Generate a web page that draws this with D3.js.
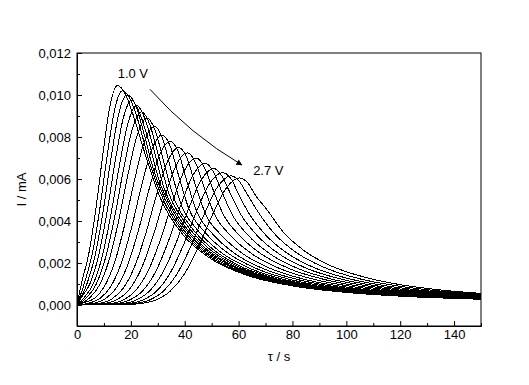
<!DOCTYPE html>
<html>
<head>
<meta charset="utf-8">
<script src="https://cdn.jsdelivr.net/npm/d3@7"></script>
<style>
  body { margin: 0; background: #fff; }
  svg text { font-family: "Liberation Sans", Arial, sans-serif; font-size: 13px; fill: #000; }
</style>
</head>
<body>
<div id="chart"></div>
<script>

// applied voltage for each transient
var voltages = ["1.0", "1.1", "1.2", "1.3", "1.4", "1.5", "1.6", "1.7", "1.8",
                "1.9", "2.0", "2.1", "2.2", "2.3", "2.4", "2.5", "2.6", "2.7"];

// [tau (s), I (mA)], one list per voltage
var curves = [
  [[0,0],[1.8,.0011],[4.44,.00248],[7.08,.00465],[9.72,.00729],[12.36,.00955],[15,.01045],[18,.01003],[21,.00899],[25,.00731],[31,.00508],[39,.0034],[49,.00226],[63,.00142],[80,.000911],[100,.000597],[120,.000421],[150,.000274]],
  [[0,0],[2.85,.00108],[5.64,.00242],[8.43,.00454],[11.22,.00712],[14.01,.00932],[16.8,.0102],[19.8,.00979],[22.8,.00873],[26.8,.00682],[32.8,.0048],[40.8,.00326],[50.8,.00218],[64.8,.00139],[80,.000936],[100,.000612],[120,.000431],[150,.00028]],
  [[0,0],[3.8,.00105],[6.74,.00237],[9.68,.00445],[12.62,.00698],[15.56,.00914],[18.5,.01],[21.5,.0096],[24.5,.00834],[28.5,.00641],[34.5,.00457],[42.5,.00313],[52.5,.00212],[66.5,.00136],[80,.00096],[100,.000626],[120,.00044],[150,.000285]],
  [[0,0],[1.76,.00038],[4.85,.00103],[7.94,.00231],[11.03,.00434],[14.12,.0068],[17.21,.00891],[20.3,.00975],[23.3,.00912],[26.3,.00795],[30.3,.00601],[36.3,.00434],[44.3,.00301],[54.3,.00206],[68.3,.00133],[80,.000985],[100,.000641],[120,.00045],[150,.000292]],
  [[0,0],[2.76,.00037],[6.0,.001],[9.24,.00225],[12.48,.00423],[15.72,.00663],[18.96,.00868],[22.2,.0095],[25.2,.00888],[28.2,.00756],[32.2,.00562],[38.2,.0041],[46.2,.00287],[56.2,.00199],[70.2,.0013],[85,.000899],[100,.000656],[120,.00046],[150,.000297]],
  [[0,0],[3.66,.00036],[7.05,.00097],[10.44,.00218],[13.83,.00409],[17.22,.00642],[20.61,.00841],[24,.0092],[27,.0086],[30,.00724],[34,.00536],[40,.00395],[48,.00279],[58,.00194],[72,.00128],[86,.000905],[100,.000675],[120,.000472],[150,.000304]],
  [[0,0],[4.76,.00035],[8.3,.00094],[11.84,.00211],[15.38,.00396],[18.92,.00621],[22.46,.00813],[26,.0089],[29,.00832],[32,.00692],[36,.00509],[42,.00378],[50,.0027],[60,.00189],[74,.00125],[87,.000913],[100,.000694],[120,.000484],[150,.000312]],
  [[0,0],[1.64,.00007],[6.56,.00033],[10.25,.0009],[13.94,.00201],[17.63,.00378],[21.32,.00593],[25.01,.00777],[28.7,.0085],[31.7,.00795],[34.7,.00653],[38.7,.00477],[44.7,.00358],[52.7,.00258],[62.7,.00183],[76.7,.00122],[88,.00093],[100,.000721],[120,.000501],[150,.000321]],
  [[0,0],[3.44,.00006],[8.56,.00032],[12.4,.00085],[16.24,.00192],[20.08,.0036],[23.92,.00565],[27.76,.0074],[31.6,.0081],[34.6,.00757],[37.6,.00622],[41.6,.00456],[47.6,.00345],[55.6,.00251],[65.6,.00179],[79.6,.0012],[90,.000937],[100,.000757],[120,.000523],[150,.000333]],
  [[0,0],[5.34,.00006],[10.66,.00031],[14.65,.00082],[18.64,.00185],[22.63,.00347],[26.62,.00544],[30.61,.00713],[34.6,.0078],[37.6,.00729],[40.6,.00598],[44.6,.00441],[50.6,.00335],[58.6,.00245],[68.6,.00176],[82.6,.00119],[91,.000972],[100,.000799],[120,.000548],[150,.000347]],
  [[0,0],[1.92,.00001],[7.44,.00006],[12.96,.00029],[17.1,.00079],[21.24,.00178],[25.38,.00334],[29.52,.00523],[33.66,.00685],[37.8,.0075],[40.8,.00701],[43.8,.00578],[47.8,.00431],[53.8,.0033],[61.8,.00242],[71.8,.00174],[85.8,.00118],[100,.000852],[120,.000579],[150,.000363]],
  [[0,0],[3.82,.00001],[9.54,.00006],[15.26,.00028],[19.55,.00076],[23.84,.00172],[28.13,.00323],[32.42,.00506],[36.71,.00663],[41,.00725],[44,.00678],[47,.00568],[51,.00433],[57,.00331],[65,.00243],[75,.00175],[89,.00119],[100,.000921],[120,.000619],[150,.000384]],
  [[0,0],[5.82,.00001],[11.74,.000055],[17.66,.00027],[22.1,.00074],[26.54,.00166],[30.98,.00311],[35.42,.00488],[39.86,.0064],[44.3,.007],[47.3,.00655],[50.3,.00556],[54.3,.00432],[60.3,.00331],[68.3,.00244],[78.3,.00176],[92.3,.0012],[105,.000893],[120,.000662],[150,.000405]],
  [[0,0],[7.82,.00001],[13.94,.000053],[20.06,.00027],[24.65,.00071],[29.24,.0016],[33.83,.003],[38.42,.00471],[43.01,.00617],[47.6,.00675],[50.6,.00635],[53.6,.00545],[57.6,.00431],[63.6,.00331],[71.6,.00244],[81.6,.00176],[95.6,.0012],[108,.000904],[120,.000709],[150,.000429]],
  [[0,0],[9.72,.00001],[16.04,.00005],[22.36,.00026],[27.1,.00069],[31.84,.00154],[36.58,.00289],[41.32,.00454],[46.06,.00594],[50.8,.0065],[53.8,.00614],[56.8,.00535],[60.8,.00432],[66.8,.00332],[74.8,.00245],[84.8,.00177],[98.8,.00121],[110,.000935],[120,.00076],[135,.000578],[150,.000454]],
  [[0,0],[11.62,.00001],[18.14,.00005],[24.66,.00025],[29.55,.00066],[34.44,.00149],[39.33,.0028],[44.22,.0044],[49.11,.00576],[54,.0063],[57,.00605],[60,.00527],[64,.00433],[70,.00334],[78,.00247],[88,.00178],[102,.00122],[115,.000907],[130,.000674],[150,.000481]],
  [[0,0],[13.52,.00001],[20.24,.00005],[26.96,.00024],[32,.00065],[37.04,.00146],[42.08,.00274],[47.12,.00429],[52.16,.00562],[57.2,.00615],[60.2,.0059],[63.2,.00527],[67.2,.00444],[73.2,.00341],[81.2,.00252],[91.2,.00182],[105.2,.00124],[118,.000927],[132,.000701],[150,.000514]],
  [[0,0],[15.42,.00001],[22.34,.00005],[29.26,.00024],[34.45,.00064],[39.64,.00143],[44.83,.00269],[50.02,.00422],[55.21,.00553],[60.4,.00605],[63.4,.00581],[66.4,.0052],[70.4,.00456],[76.4,.0035],[84.4,.00258],[94.4,.00186],[108.4,.00127],[120,.000969],[135,.000716],[150,.000551]]
];

var xTicks = [0, 20, 40, 60, 80, 100, 120, 140];
var xMinor = [10, 30, 50, 70, 90, 110, 130, 150];
var yTicks = [0, 0.002, 0.004, 0.006, 0.008, 0.010, 0.012];
var yMinor = [0.001, 0.003, 0.005, 0.007, 0.009, 0.011];

var margin = {top: 53, right: 48, bottom: 59, left: 77},
    width = 529 - margin.left - margin.right,
    height = 385 - margin.top - margin.bottom;

var svg = d3.select("#chart")
  .append("svg")
    .attr("width", 529)
    .attr("height", 385)
  .append("g")
    .attr("transform", "translate(" + margin.left + "," + margin.top + ")");

var x = d3.scaleLinear().domain([0, 150]).range([0, width]);
var y = d3.scaleLinear().domain([-0.001, 0.012]).range([height, 0]);

// curves
var line = d3.line()
  .x(function(d) { return x(d[0]); })
  .y(function(d) { return y(d[1]); })
  .curve(d3.curveMonotoneX);

svg.selectAll("path.curve")
  .data(curves)
  .enter()
  .append("path")
    .attr("class", "curve")
    .attr("d", line)
    .attr("fill", "none")
    .attr("stroke", "#000")
    .attr("stroke-width", 1)
    .attr("shape-rendering", "crispEdges");

// axes, ticks pointing inwards
var comma = function(d) { return d3.format(".3f")(d).replace(".", ","); };

svg.append("g")
  .attr("transform", "translate(0," + height + ")")
  .call(d3.axisBottom(x).tickValues(xTicks).tickSize(-5).tickSizeOuter(0).tickPadding(4));
svg.append("g")
  .attr("transform", "translate(0," + height + ")")
  .call(d3.axisBottom(x).tickValues(xMinor).tickSize(-3).tickSizeOuter(0).tickFormat(""));
svg.append("g")
  .call(d3.axisLeft(y).tickValues(yTicks).tickSize(-5).tickSizeOuter(0).tickPadding(6).tickFormat(comma));
svg.append("g")
  .call(d3.axisLeft(y).tickValues(yMinor).tickSize(-3).tickSizeOuter(0).tickFormat(""));

svg.selectAll(".tick text")
  .style("font-family", "'Liberation Sans', Arial, sans-serif")
  .style("font-size", "13px")
  .attr("fill", "#000");
svg.selectAll(".domain, .tick line").attr("stroke", "#000");

svg.append("rect")
  .attr("x", 0).attr("y", 0)
  .attr("width", width).attr("height", height)
  .attr("fill", "none")
  .attr("stroke", "#000")
  .attr("stroke-width", 1);

// axis titles
svg.append("text")
  .attr("x", width / 2)
  .attr("y", height + 35)
  .attr("text-anchor", "middle")
  .text("\u03c4 / s");

svg.append("text")
  .attr("transform", "translate(-51," + (height / 2) + ") rotate(-90)")
  .attr("text-anchor", "middle")
  .text("I / mA");

// voltage labels and the arrow between them
svg.append("text")
  .attr("x", x(15.1))
  .attr("y", y(0.0108))
  .text(voltages[0] + " V");

svg.append("text")
  .attr("x", x(65.4))
  .attr("y", y(0.00619))
  .text(voltages[voltages.length - 1] + " V");

svg.append("defs").append("marker")
    .attr("id", "head")
    .attr("viewBox", "0 0 10 10")
    .attr("refX", 9).attr("refY", 5)
    .attr("markerWidth", 8).attr("markerHeight", 6)
    .attr("markerUnits", "userSpaceOnUse")
    .attr("orient", "auto")
  .append("path")
    .attr("d", "M0,0L10,5L0,10z")
    .attr("fill", "#000");

var arrow = d3.path();
arrow.moveTo(x(27.1), y(0.01027));
arrow.quadraticCurveTo(x(42), y(0.00813), x(61.2), y(0.00667));
svg.append("path")
  .attr("d", arrow.toString())
  .attr("fill", "none")
  .attr("stroke", "#000")
  .attr("stroke-width", 1)
  .attr("marker-end", "url(#head)");

</script>
</body>
</html>
